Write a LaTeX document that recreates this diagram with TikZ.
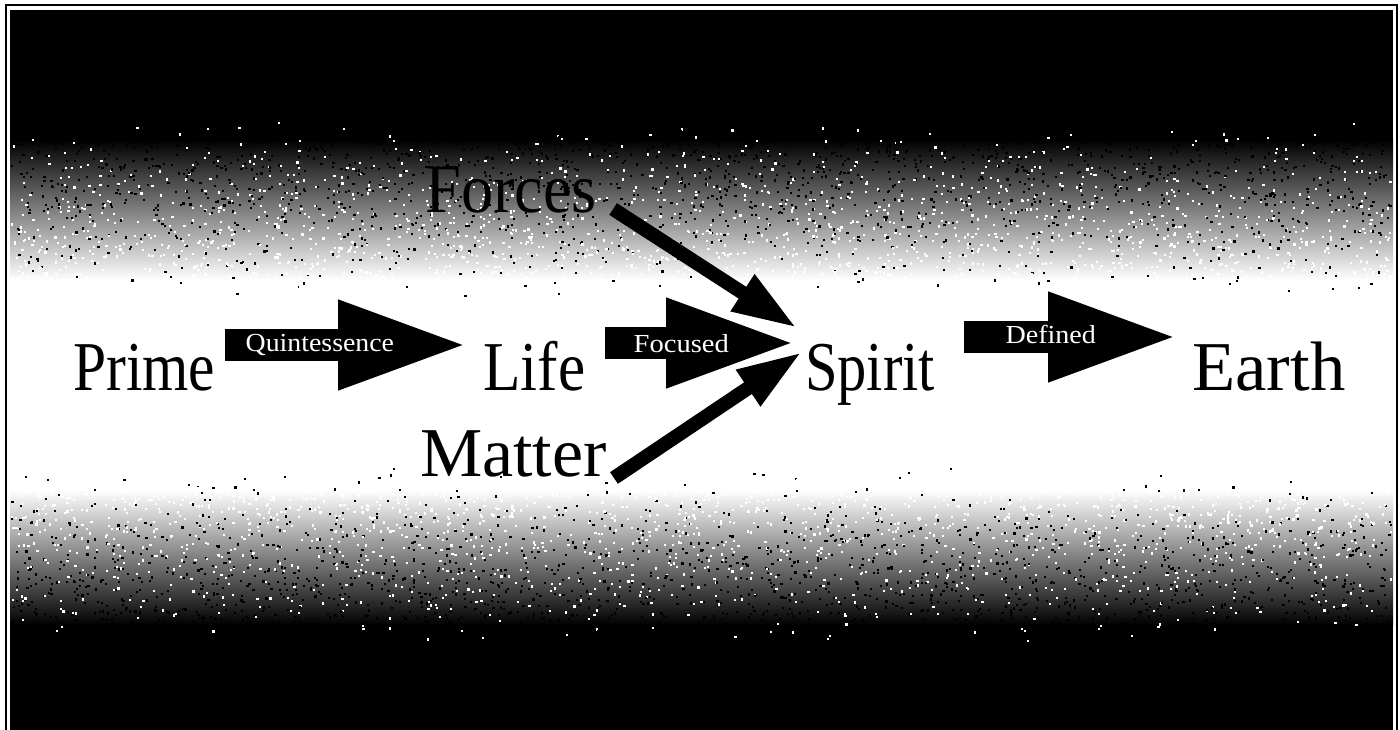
\documentclass[tikz,border=0pt]{standalone}
\usepackage{fontspec}
\setmainfont{Liberation Serif}
\usetikzlibrary{arrows.meta}
\tikzset{
  word/.style={inner sep=0pt, anchor=base west, font=\fontsize{70}{72}\selectfont},
  tag/.style={inner sep=0pt, anchor=base west, text=white, font=\fontsize{26}{28}\selectfont},
  blockarrow/.style={line width=32pt, -{Triangle[length=134pt,width=80pt]}},
  thinarrow/.style={line width=14pt, -{Triangle[length=65pt,width=40pt]}},
}
\begin{document}
\begin{tikzpicture}[x=1pt,y=-1pt]
\useasboundingbox (0,0) rectangle (1400,730);
% background
\fill[white] (0,0) rectangle (1400,730);
\draw[line width=1.6pt] (6,5) rectangle (1397,745);
\fill[black] (10,10) rectangle (1393,735);
\shade[top color=black, bottom color=white] (10,140) rectangle (1393,280);
\fill[white] (10,280) rectangle (1393,490);
\shade[top color=white, bottom color=black] (10,490) rectangle (1393,625);
% grain
\pgfmathsetseed{11}
\foreach \i in {1,...,4000}{%
  \pgfmathsetmacro\gx{10+1380*rnd}%
  \pgfmathsetmacro\gy{120+180*rnd}%
  \pgfmathtruncatemacro\gp{rnd<((\gy-120)/180) ? 100 : 0}%
  \fill[white!\gp!black] (\gx,\gy) rectangle ++(2.2,2.2);
}
\foreach \i in {1,...,4000}{%
  \pgfmathsetmacro\gx{10+1380*rnd}%
  \pgfmathsetmacro\gy{465+180*rnd}%
  \pgfmathtruncatemacro\gp{rnd<(1-(\gy-465)/180) ? 100 : 0}%
  \fill[white!\gp!black] (\gx,\gy) rectangle ++(2.2,2.2);
}
% words
\node[word] (prime)  at (73,390)   {\scalebox{0.85}[1]{Prime}};
\node[word] (life)   at (483,390)  {\scalebox{0.875}[1]{Life}};
\node[word] (spirit) at (805,390)  {\scalebox{0.835}[1]{Spirit}};
\node[word] (earth)  at (1192,390) {\scalebox{1.01}[1]{Earth}};
\node[word] (forces) at (425,213)  {\scalebox{0.92}[1]{Forces}};
\node[word] (matter) at (420,476)  {\scalebox{1.0}[1]{Matter}};
% block arrows
\draw[blockarrow] ([shift={(9,-45)}]prime.base east) -- ([shift={(-11,-45)}]life.base west);
\draw[blockarrow] ([shift={(20,-47)}]life.base east) -- ([shift={(-5,-47)}]spirit.base west);
\draw[blockarrow] ([shift={(29,-53)}]spirit.base east) -- ([shift={(-10,-53)}]earth.base west);
% labels
\node[tag] (q) at ([shift={(30,-39)}]prime.base east) {\scalebox{1.07}[1]{Quintessence}};
\node[tag] (f) at ([shift={(48,-38)}]life.base east) {\scalebox{1.1}[1]{Focused}};
\node[tag] (d) at ([shift={(70,-47)}]spirit.base east) {\scalebox{1.08}[1]{Defined}};
% diagonal arrows
\draw[thinarrow] ([shift={(16,-4)}]forces.base east) -- ([shift={(-8,-62)}]spirit.base west);
\draw[thinarrow] ([shift={(7,2)}]matter.base east) -- ([shift={(-3,-38)}]spirit.base west);
\end{tikzpicture}
\end{document}
